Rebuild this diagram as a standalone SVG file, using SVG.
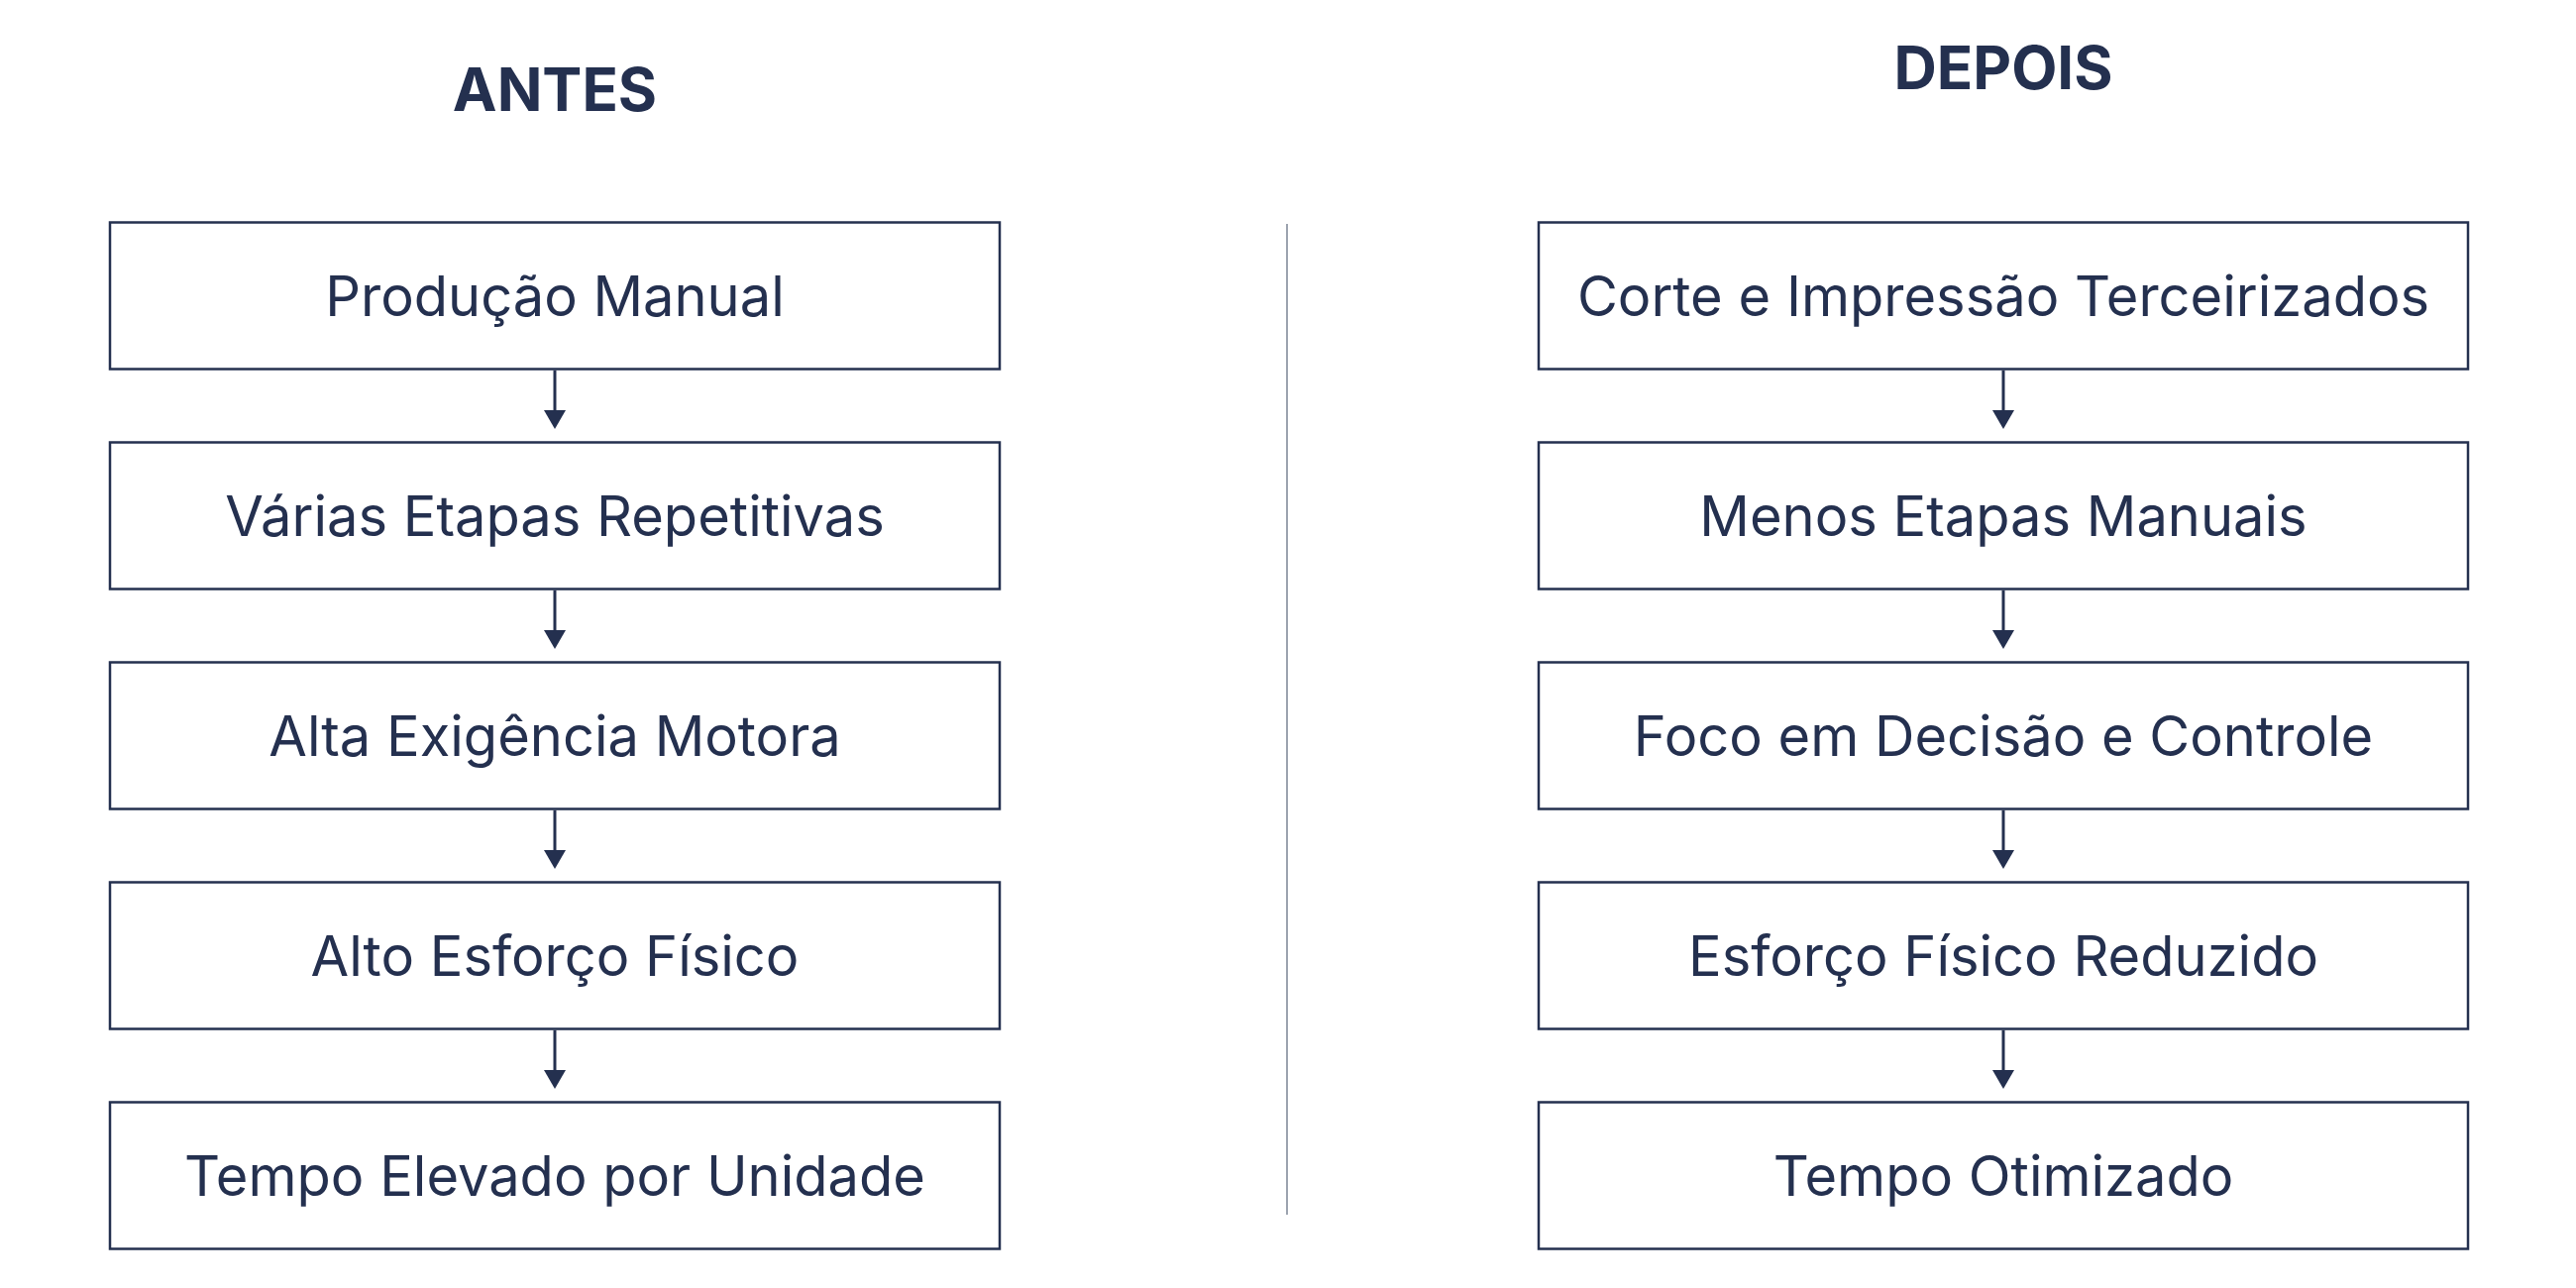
<svg xmlns="http://www.w3.org/2000/svg" width="2600" height="1300" viewBox="0 0 2600 1300">
<style>
.box{fill:#ffffff;stroke:#24304f;stroke-width:2.5}
.lbl{font-family:Inter,"Noto Sans","Liberation Sans",sans-serif;font-size:56px;fill:#24304f;text-anchor:middle}
.ttl{font-family:Inter,"Noto Sans","Liberation Sans",sans-serif;font-size:60px;font-weight:700;fill:#24304f;text-anchor:middle}
.edge{stroke:#24304f;stroke-width:3;fill:none;marker-end:url(#arr)}
</style>
<defs>
<marker id="arr" viewBox="0 0 19 22" refX="0" refY="11" markerWidth="19" markerHeight="22" markerUnits="userSpaceOnUse" orient="auto">
<path d="M0,0 L19,11 L0,22 Z" fill="#24304f"/>
</marker>
</defs>
<rect width="2600" height="1300" fill="#ffffff"/>
<text class="ttl" x="560" y="112">ANTES</text>
<text class="ttl" x="2022" y="90">DEPOIS</text>
<line id="divider" x1="1299" y1="226" x2="1299" y2="1226" stroke="#9ca3af" stroke-width="2"/>

<g id="connectors">
<path class="edge" d="M560,373.75 V414"/>
<path class="edge" d="M560,595.75 V636"/>
<path class="edge" d="M560,817.75 V858"/>
<path class="edge" d="M560,1039.75 V1080"/>
<path class="edge" d="M2022,373.75 V414"/>
<path class="edge" d="M2022,595.75 V636"/>
<path class="edge" d="M2022,817.75 V858"/>
<path class="edge" d="M2022,1039.75 V1080"/>
</g>

<g id="a1"><rect class="box" x="111" y="224.5" width="898" height="148"/><text class="lbl" x="560" y="319">Produção Manual</text></g>
<g id="a2"><rect class="box" x="111" y="446.5" width="898" height="148"/><text class="lbl" x="560" y="541">Várias Etapas Repetitivas</text></g>
<g id="a3"><rect class="box" x="111" y="668.5" width="898" height="148"/><text class="lbl" x="560" y="763">Alta Exigência Motora</text></g>
<g id="a4"><rect class="box" x="111" y="890.5" width="898" height="148"/><text class="lbl" x="560" y="985">Alto Esforço Físico</text></g>
<g id="a5"><rect class="box" x="111" y="1112.5" width="898" height="148"/><text class="lbl" x="560" y="1207">Tempo Elevado por Unidade</text></g>

<g id="d1"><rect class="box" x="1553" y="224.5" width="938" height="148"/><text class="lbl" x="2022" y="319">Corte e Impressão Terceirizados</text></g>
<g id="d2"><rect class="box" x="1553" y="446.5" width="938" height="148"/><text class="lbl" x="2022" y="541">Menos Etapas Manuais</text></g>
<g id="d3"><rect class="box" x="1553" y="668.5" width="938" height="148"/><text class="lbl" x="2022" y="763">Foco em Decisão e Controle</text></g>
<g id="d4"><rect class="box" x="1553" y="890.5" width="938" height="148"/><text class="lbl" x="2022" y="985">Esforço Físico Reduzido</text></g>
<g id="d5"><rect class="box" x="1553" y="1112.5" width="938" height="148"/><text class="lbl" x="2022" y="1207">Tempo Otimizado</text></g>
</svg>
